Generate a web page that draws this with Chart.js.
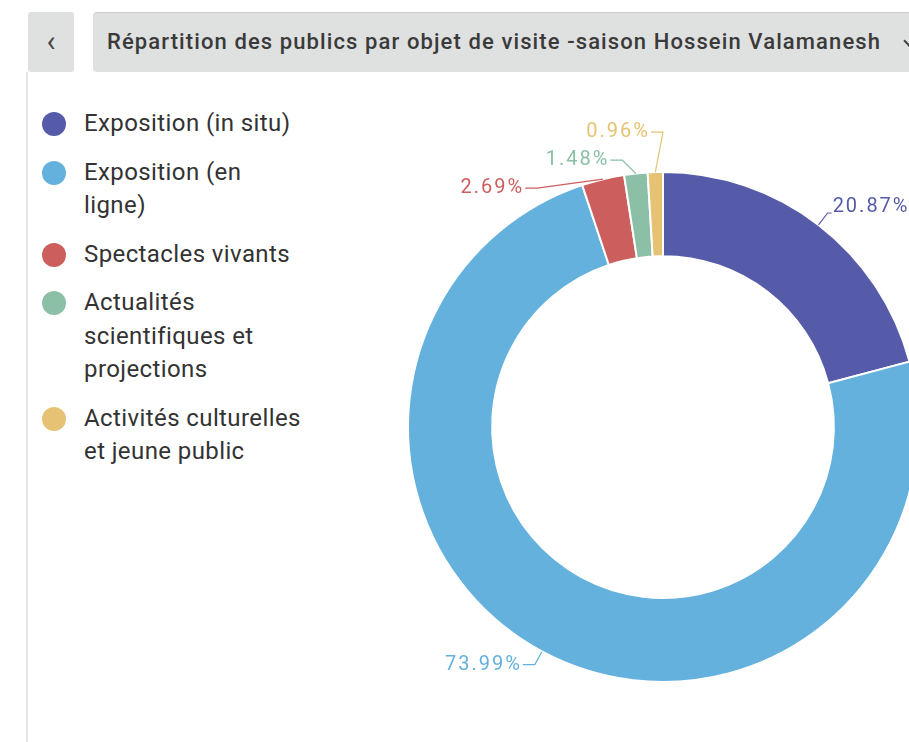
<!DOCTYPE html>
<html lang="fr">
<head>
<meta charset="utf-8">
<title>Répartition des publics</title>
<script src="https://cdn.jsdelivr.net/npm/chart.js@4.4.1/dist/chart.umd.min.js"></script>
<style>
    html, body { margin: 0; padding: 0; background: #fff; width: 909px; height: 742px; overflow: hidden; font-family: Roboto, 'Noto Sans', sans-serif; }
    .panel-line { position: absolute; left: 26px; top: 72px; width: 2px; height: 670px; background: #e6e6e6; }
    .back-btn { position: absolute; left: 28px; top: 12px; width: 46px; height: 60px; background: #dfe0e0; border-radius: 3px; color: #444; font-size: 30px; line-height: 58px; text-align: center; }
    .select { position: absolute; left: 93px; top: 12px; width: 840px; height: 60px; background: #dfe0e0; border-radius: 4px; border-top: 1px solid #cfcfcf; box-sizing: border-box; }
    .select span { position: absolute; left: 14px; top: 0; line-height: 58px; font-size: 22px; letter-spacing: 1.1px; font-weight: 500; color: #3a3a3a; white-space: nowrap; }
    .select i { position: absolute; left: 812px; top: 24px; width: 6px; height: 6px; border-right: 2px solid #444; border-bottom: 2px solid #444; transform: rotate(45deg); }
    #legend { position: absolute; left: 42px; top: 107px; margin: 0; padding: 0; list-style: none; }
    #legend li { display: flex; align-items: flex-start; margin-bottom: 15px; }
    #legend .dot { flex: none; width: 24px; height: 24px; border-radius: 50%; margin-top: 5px; margin-right: 18px; }
    #legend .txt { width: 222px; font-size: 24px; letter-spacing: 0.4px; line-height: 33.5px; color: #333; }
    #chart-box { position: absolute; left: 313px; top: 77px; width: 700px; height: 700px; }
</style>
</head>
<body>
<div class="panel-line"></div>
<div class="back-btn">‹</div>
<div class="select"><span>Répartition des publics par objet de visite -saison Hossein Valamanesh</span><i></i></div>
<ul id="legend"></ul>
<div id="chart-box"><canvas id="chartPublics"></canvas></div>

<script>
// Données
const categories = ['Exposition (in situ)', 'Exposition (en ligne)', 'Spectacles vivants', 'Actualités scientifiques et projections', 'Activités culturelles et jeune public'];
const parts = [20.87, 73.99, 2.69, 1.48, 0.96];
const couleurs = ['#565ba9', '#64b1dd', '#cc5e5d', '#8bc0a7', '#e6c374'];

// Légende en HTML (texte sur plusieurs lignes)
const legend = document.getElementById('legend');
categories.forEach((cat, i) => {
    const li = document.createElement('li');
    li.innerHTML = `<span class="dot" style="background:${couleurs[i]}"></span><span class="txt">${cat}</span>`;
    legend.appendChild(li);
});

// Étiquettes extérieures avec traits de rappel
const labelsDehors = {
    id: 'labelsDehors',
    afterDatasetsDraw(chart) {
        const ctx = chart.ctx;
        const meta = chart.getDatasetMeta(0);
        const len1 = 15, len2 = 12, gap = 28;
        const items = meta.data.map((arc, i) => {
            const mid = (arc.startAngle + arc.endAngle) / 2;
            const R = arc.outerRadius + len1;
            return {
                i, arc, mid, R,
                ax: arc.x + Math.cos(mid) * arc.outerRadius,
                ay: arc.y + Math.sin(mid) * arc.outerRadius,
                y: arc.y + Math.sin(mid) * R,
                right: Math.cos(mid) >= 0
            };
        });

        // écarte les étiquettes qui se chevauchent, côté par côté
        [true, false].forEach(side => {
            const list = items.filter(it => it.right === side).sort((a, b) => a.y - b.y);
            for (let n = 0; n < 60; n++) {
                for (let k = 0; k < list.length - 1; k++) {
                    const diff = list[k + 1].y - list[k].y;
                    if (diff < gap) {
                        const d = (gap - diff) / 2;
                        list[k].y -= d;
                        list[k + 1].y += d;
                    }
                }
            }
        });

        ctx.save();
        ctx.font = '20px Roboto';
        ctx.letterSpacing = '2px';
        ctx.textBaseline = 'middle';
        ctx.lineWidth = 1.2;
        items.forEach(it => {
            const cx = it.arc.x, cy = it.arc.y;
            const dy = it.y - cy;
            const dx = Math.sqrt(Math.max(0, it.R * it.R - dy * dy));
            const ex = it.right ? cx + dx : cx - dx;
            const tx = it.right ? ex + len2 / 3 : ex - len2;
            ctx.strokeStyle = couleurs[it.i];
            ctx.fillStyle = couleurs[it.i];
            ctx.beginPath();
            ctx.moveTo(it.ax, it.ay);
            ctx.lineTo(ex, it.y);
            ctx.lineTo(tx, it.y);
            ctx.stroke();
            ctx.textAlign = it.right ? 'left' : 'right';
            ctx.fillText(parts[it.i].toFixed(2) + '%', it.right ? tx + 1 : tx - 1, it.y - (it.right ? 6 : 0));
        });
        ctx.restore();
    }
};

new Chart(document.getElementById('chartPublics'), {
    type: 'doughnut',
    data: {
        labels: categories,
        datasets: [{
            data: parts,
            backgroundColor: couleurs,
            borderColor: '#ffffff',
            borderWidth: 2
        }]
    },
    options: {
        responsive: true,
        maintainAspectRatio: false,
        animation: false,
        cutout: '67%',
        layout: { padding: 94 },
        plugins: {
            legend: { display: false },
            tooltip: { enabled: false }
        }
    },
    plugins: [labelsDehors]
});
</script>
</body>
</html>
